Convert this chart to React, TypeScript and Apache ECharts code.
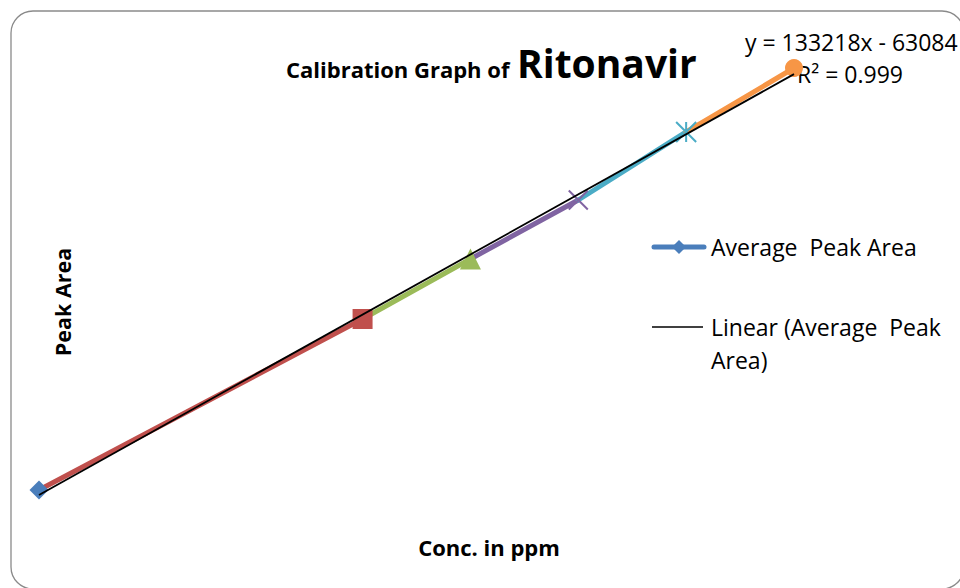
import React, { useEffect, useRef } from "react";
import * as echarts from "echarts";

// Data
const concPpm = [10, 25, 30, 35, 40, 45];
const peakArea = [1324000, 3218750, 3883600, 4537300, 5290800, 5999900];
const pointColors = ["#4A7EBB", "#C0504D", "#9BBB59", "#8064A2", "#4BACC6", "#F79646"];
const trendSlope = 133218;
const trendIntercept = -63084;
const titleMain = "Calibration Graph of ";
const titleDrug = "Ritonavir";
const equationText = "y = 133218x - 63084";
const r2Text = "R² = 0.999";
const xAxisTitle = "Conc. in ppm";
const yAxisTitle = "Peak Area";
const seriesName = "Average  Peak Area";
const trendName = "Linear (Average  Peak";
const trendName2 = "Area)";

const X_PATH = "path://M0 0 L10 10 M10 0 L0 10";
const STAR_PATH = "path://M5 0 L5 10 M0 0 L10 10 M10 0 L0 10";
const pointSymbols = ["diamond", "rect", "triangle", X_PATH, STAR_PATH, "circle"];
const pointSizes = [19, 20, 21, 19, 20, 18];

const FONT = "'Open Sans', Lato, sans-serif";

export default function App() {
  const ref = useRef<HTMLDivElement>(null);
  useEffect(() => {
    if (!ref.current) return;
    const chart = echarts.init(ref.current, undefined, { renderer: "svg" });

    const segments: any[] = [];
    for (let i = 1; i < concPpm.length; i++) {
      segments.push({
        type: "line",
        name: seriesName + " " + i,
        data: [
          [concPpm[i - 1], peakArea[i - 1]],
          [concPpm[i], peakArea[i]],
        ],
        symbol: "none",
        silent: true,
        z: 2,
        lineStyle: { color: pointColors[i], width: 5, cap: "round" },
      });
    }

    const markerData = concPpm.map((c, i) => {
      const isStroke = i === 3 || i === 4;
      return {
        value: [c, peakArea[i]],
        symbol: pointSymbols[i],
        symbolSize: pointSizes[i],
        itemStyle: isStroke
          ? { color: "rgba(0,0,0,0)", borderColor: pointColors[i], borderWidth: 2, opacity: 1 }
          : { color: pointColors[i], opacity: 1 },
      };
    });

    const xMin = Math.min(...concPpm);
    const xMax = Math.max(...concPpm);
    const trendData = [
      [xMin, trendSlope * xMin + trendIntercept],
      [xMax, trendSlope * xMax + trendIntercept],
    ];

    chart.setOption({
      animation: false,
      backgroundColor: "#ffffff",
      graphic: [
        {
          type: "rect",
          z: -1,
          shape: { x: 11, y: 11, width: 953, height: 578, r: 22 },
          style: { fill: "none", stroke: "#8a8a8a", lineWidth: 1.3 },
        },
        {
          type: "text",
          x: 286,
          y: 58,
          style: { text: titleMain, fontFamily: FONT, fontWeight: "bold", fontSize: 22, fill: "#000", align: "left", verticalAlign: "top" },
        },
        {
          type: "text",
          x: 517,
          y: 43,
          style: { text: titleDrug, fontFamily: FONT, fontWeight: "bold", fontSize: 39, fill: "#000", align: "left", verticalAlign: "top" },
        },
        {
          type: "text",
          x: 745,
          y: 42,
          style: { text: equationText, fontFamily: FONT, fontSize: 23, fill: "#000", align: "left", verticalAlign: "middle" },
        },
        {
          type: "text",
          x: 797,
          y: 74,
          style: { text: r2Text, fontFamily: FONT, fontSize: 23, fill: "#000", align: "left", verticalAlign: "middle" },
        },
        {
          type: "text",
          x: 62,
          y: 302,
          rotation: Math.PI / 2,
          style: { text: yAxisTitle, fontFamily: FONT, fontWeight: "bold", fontSize: 21.5, fill: "#000", align: "center", verticalAlign: "middle" },
        },
        {
          type: "text",
          x: 489,
          y: 547,
          style: { text: xAxisTitle, fontFamily: FONT, fontWeight: "bold", fontSize: 22, fill: "#000", align: "center", verticalAlign: "middle" },
        },
        {
          type: "line",
          shape: { x1: 654, y1: 247, x2: 704, y2: 247 },
          style: { stroke: pointColors[0], lineWidth: 5, lineCap: "round" },
        },
        {
          type: "polygon",
          shape: { points: [[679, 240], [686, 247], [679, 254], [672, 247]] },
          style: { fill: pointColors[0] },
        },
        {
          type: "text",
          x: 711,
          y: 247,
          style: { text: seriesName, fontFamily: FONT, fontSize: 23, fill: "#000", align: "left", verticalAlign: "middle" },
        },
        {
          type: "line",
          shape: { x1: 652, y1: 327, x2: 703, y2: 327 },
          style: { stroke: "#000", lineWidth: 1.6 },
        },
        {
          type: "text",
          x: 711,
          y: 327,
          style: { text: trendName, fontFamily: FONT, fontSize: 23, fill: "#000", align: "left", verticalAlign: "middle" },
        },
        {
          type: "text",
          x: 711,
          y: 360,
          style: { text: trendName2, fontFamily: FONT, fontSize: 23, fill: "#000", align: "left", verticalAlign: "middle" },
        },
      ],
      grid: { left: 39, right: 166, top: 40, height: 500 },
      xAxis: { type: "value", min: 10, max: 45, show: false },
      yAxis: { type: "value", min: 770000, max: 6310000, show: false },
      series: [
        ...segments,
        {
          type: "scatter",
          name: seriesName,
          data: markerData,
          z: 3,
          silent: true,
          itemStyle: { opacity: 1 },
        },
        {
          type: "line",
          name: trendName + " " + trendName2,
          data: trendData,
          symbol: "none",
          silent: true,
          z: 4,
          lineStyle: { color: "#000000", width: 1.8 },
        },
      ],
    });
    return () => chart.dispose();
  }, []);
  return (
    <div
      ref={ref}
      style={{ position: "fixed", left: 0, top: 0, width: 960, height: 588, background: "#fff" }}
    />
  );
}
